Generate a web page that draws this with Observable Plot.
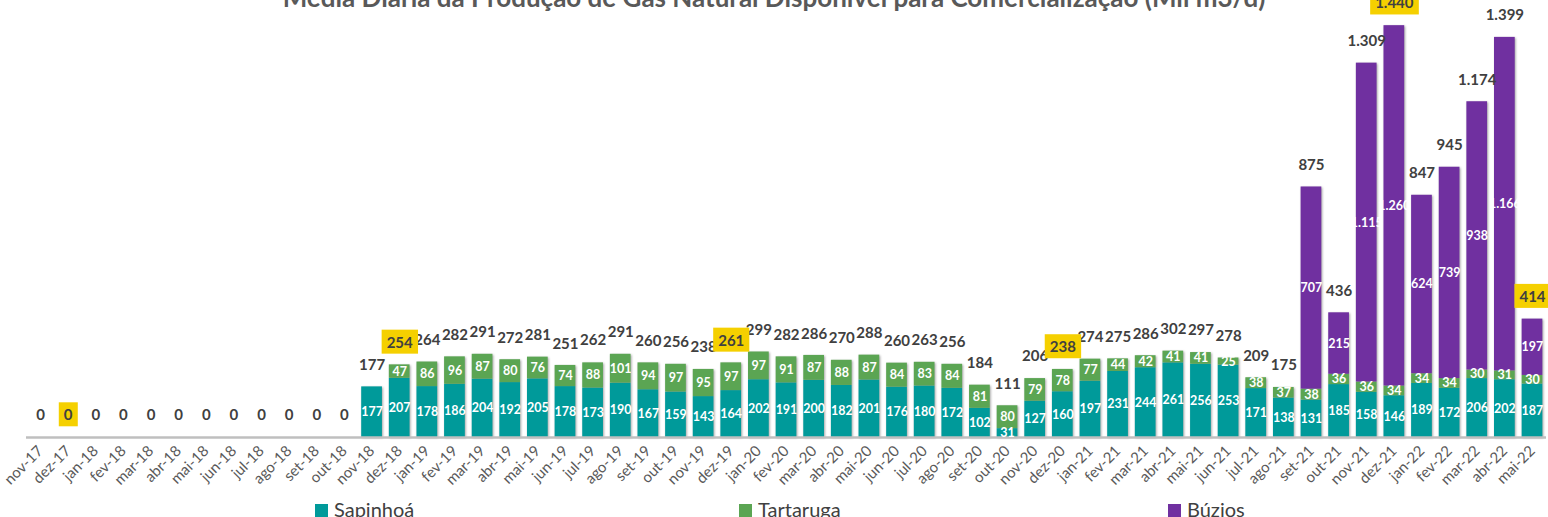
<!DOCTYPE html>
<html>
<head>
<meta charset="utf-8">
<script src="https://cdn.jsdelivr.net/npm/d3@7"></script>
<script src="https://cdn.jsdelivr.net/npm/@observablehq/plot@0.6"></script>
<style>
  html, body { margin: 0; padding: 0; background: #fff; }
  #page { position: relative; width: 1548px; height: 517px; overflow: hidden; font-family: Lato, "Open Sans", sans-serif; }
  #title { position: absolute; left: 0; top: -16px; width: 1548px; text-align: center; font-size: 26px; line-height: 26px; font-weight: 700; color: #595959; white-space: nowrap; }
  #chart { position: absolute; left: 0; top: 0; }
  #legend { position: absolute; left: 0; top: 499px; width: 1548px; height: 24px; font-size: 20px; line-height: 20px; color: #404040; }
  .item { position: absolute; top: 0; white-space: nowrap; }
  .sw { display: inline-block; width: 13px; height: 13px; margin-right: 6px; vertical-align: 0px; }
</style>
</head>
<body>
<div id="page">
  <div id="chart"></div>
  <div id="title">Média Diária da Produção de Gás Natural Disponível para Comercialização (Mil m3/d)</div>
  <div id="legend"></div>
</div>
<script>
const months = ["nov-17","dez-17",
  "jan-18","fev-18","mar-18","abr-18","mai-18","jun-18","jul-18","ago-18","set-18","out-18","nov-18","dez-18",
  "jan-19","fev-19","mar-19","abr-19","mai-19","jun-19","jul-19","ago-19","set-19","out-19","nov-19","dez-19",
  "jan-20","fev-20","mar-20","abr-20","mai-20","jun-20","jul-20","ago-20","set-20","out-20","nov-20","dez-20",
  "jan-21","fev-21","mar-21","abr-21","mai-21","jun-21","jul-21","ago-21","set-21","out-21","nov-21","dez-21",
  "jan-22","fev-22","mar-22","abr-22","mai-22"];

const series = ["Sapinhoá", "Tartaruga", "Búzios"];
const colors = ["#009a9a", "#5ba553", "#7030a0"];

const sapinhoa = [0,0, 0,0,0,0,0,0,0,0,0,0,177,207,
  178,186,204,192,205,178,173,190,167,159,143,164,
  202,191,200,182,201,176,180,172,102,31,127,160,
  197,231,244,261,256,253,171,138,131,185,158,146,
  189,172,206,202,187];
const tartaruga = [0,0, 0,0,0,0,0,0,0,0,0,0,0,47,
  86,96,87,80,76,74,88,101,94,97,95,97,
  97,91,87,88,87,84,83,84,81,80,79,78,
  77,44,42,41,41,25,38,37,38,36,36,34,
  34,34,30,31,30];
const buzios = [0,0, 0,0,0,0,0,0,0,0,0,0,0,0,
  0,0,0,0,0,0,0,0,0,0,0,0,
  0,0,0,0,0,0,0,0,0,0,0,0,
  0,0,0,0,0,0,0,0,707,215,1115,1260,
  624,739,938,1166,197];
const totals = [0,0, 0,0,0,0,0,0,0,0,0,0,177,254,
  264,282,291,272,281,251,262,291,260,256,238,261,
  299,282,286,270,288,260,263,256,184,111,206,238,
  274,275,286,302,297,278,209,175,875,436,1309,1440,
  847,945,1174,1399,414];
const highlighted = ["dez-17","dez-18","dez-19","dez-20","dez-21","mai-22"];

const fmt = d3.formatLocale({decimal: ",", thousands: ".", grouping: [3], currency: ["R$", ""]}).format(",d");

const values = [sapinhoa, tartaruga, buzios];
const data = [];
months.forEach((m, i) => {
  series.forEach((s, j) => data.push({month: m, series: s, value: values[j][i]}));
});
const labelData = data.filter(d => d.value > 0);
const totalData = months.map((m, i) => ({month: m, total: totals[i]}));

const chart = Plot.plot({
  width: 1548,
  height: 500,
  marginLeft: 26,
  marginRight: 2,
  marginTop: 8,
  marginBottom: 63,
  style: {fontFamily: "Lato, 'Open Sans', sans-serif", background: "transparent", overflow: "visible"},
  x: {domain: months, paddingInner: 0.25, paddingOuter: 0.132, axis: null},
  y: {domain: [0, 1500], axis: null},
  color: {domain: series, range: colors},
  marks: [
    Plot.barY(data, {x: "month", y: "value", fill: "series", z: "series"}),
    Plot.ruleY([0], {stroke: "#bfbfbf", strokeWidth: 2.5}),
    Plot.axisX({tickRotate: -45, tickSize: 0, tickPadding: 11, fontSize: 15, fill: "#595959", label: null}),
    Plot.text(labelData, Plot.stackY({x: "month", y: "value", z: "series", text: d => fmt(d.value), fill: "white", fontSize: 12.5, fontWeight: 700})),
    Plot.text(totalData.filter(d => !highlighted.includes(d.month)), {x: "month", y: "total", text: d => fmt(d.total), dy: -22, fill: "#404040", fontSize: 15, fontWeight: 700}),
    Plot.text(totalData.filter(d => highlighted.includes(d.month)), {x: "month", y: "total", text: d => fmt(d.total), dy: -22, fill: "#404040", fontSize: 15, fontWeight: 700})
  ]
});
document.getElementById("chart").appendChild(chart);

// bar shadow
const bars = chart.querySelector('g[aria-label="bar"]');
if (bars) bars.style.filter = "drop-shadow(1.5px 1px 1.2px rgba(0,0,0,0.35))";

// yellow highlight boxes behind highlighted totals (last text mark)
const textGroups = chart.querySelectorAll('g[aria-label="text"]');
const hg = textGroups[textGroups.length - 1];
if (hg) {
  const ns = "http://www.w3.org/2000/svg";
  const boxes = document.createElementNS(ns, "g");
  hg.querySelectorAll("text").forEach(t => {
    const b = t.getBBox();
    const r = document.createElementNS(ns, "rect");
    r.setAttribute("x", b.x - 5);
    r.setAttribute("y", b.y - 3);
    r.setAttribute("width", b.width + 10);
    r.setAttribute("height", b.height + 6);
    r.setAttribute("fill", "#f5d000");
    const tr = t.getAttribute("transform");
    if (tr) r.setAttribute("transform", tr);
    boxes.appendChild(r);
  });
  const htr = hg.getAttribute("transform");
  if (htr) boxes.setAttribute("transform", htr);
  hg.parentNode.insertBefore(boxes, hg);
}

// legend
const legend = document.getElementById("legend");
const lefts = [315, 739, 1168];
series.forEach((s, i) => {
  const it = document.createElement("div");
  it.className = "item";
  it.style.left = lefts[i] + "px";
  it.innerHTML = `<span class="sw" style="background:${colors[i]}"></span>${s}`;
  legend.appendChild(it);
});
</script>
</body>
</html>
